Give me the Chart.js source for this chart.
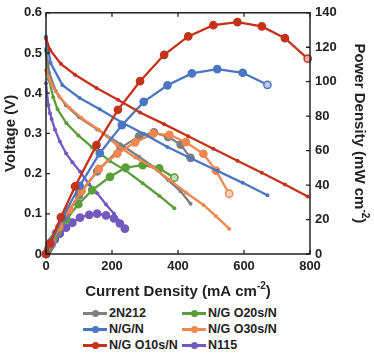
<!DOCTYPE html>
<html>
<head>
<meta charset="utf-8">
<script src="https://cdn.jsdelivr.net/npm/chart.js@4.4.1/dist/chart.umd.min.js"></script>
<style>
  html, body { margin: 0; padding: 0; background: #fff; }
  #wrap { position: relative; width: 374px; height: 354px; overflow: hidden; }
  #chart { position: absolute; left: 0; top: 0; }
  .lg-line { position: absolute; height: 3px; width: 24px; }
  .lg-dot { position: absolute; width: 7px; height: 7px; border-radius: 50%; }
  .lg-text { position: absolute; font: bold 12.5px "Liberation Sans", Arial, sans-serif; color: #222; line-height: 16px; white-space: nowrap; }
</style>
</head>
<body>
<div id="wrap">
  <canvas id="chart" width="374" height="300"></canvas>
  <div id="legend"></div>
</div>
<script>
// series, in legend order (row by row)
const seriesNames = ['2N212', 'N/G O20s/N', 'N/G/N', 'N/G O30s/N', 'N/G O10s/N', 'N115'];
const seriesColors = ['#7f7f7f', '#5a9e3a', '#4a76c2', '#f0874e', '#c5321a', '#7359be'];
const seriesTints = ['#cfcfcf', '#c2dcb4', '#bccdeb', '#f9d3bd', '#e8b0a6', '#cbc0ea'];

// current density (mA cm-2), voltage (V), power density (mW cm-2)
const cur2N212 = [0, 10, 30, 60, 100, 155, 226, 282, 327, 370, 408, 438];
const volt2N212 = [0.51, 0.45, 0.405, 0.37, 0.34, 0.31, 0.273, 0.242, 0.216, 0.184, 0.156, 0.125];
const pow2N212 = [0, 4.5, 12.2, 22.2, 34, 48, 61.6, 68.3, 70.6, 68, 63.5, 55.8];

const curO20 = [0, 8, 22, 35, 62, 98, 140, 194, 241, 293, 343, 389];
const voltO20 = [0.505, 0.435, 0.39, 0.36, 0.325, 0.295, 0.265, 0.231, 0.208, 0.176, 0.145, 0.114];
const powO20 = [0, 3.5, 8.6, 12.6, 20.2, 28.9, 37.1, 44.8, 50.1, 51.6, 49.7, 44.3];

const curNGN = [0, 14, 50, 102, 163, 230, 296, 368, 442, 519, 596, 671];
const voltNGN = [0.541, 0.475, 0.42, 0.388, 0.36, 0.327, 0.299, 0.266, 0.237, 0.207, 0.177, 0.146];
const powNGN = [0, 6.7, 21, 39.6, 58.5, 74.8, 88.3, 97.9, 104.8, 107.3, 105.2, 98.2];

const curO30 = [0, 17, 40, 71, 108, 160, 216, 270, 325, 374, 424, 477, 515, 555];
const voltO30 = [0.457, 0.42, 0.391, 0.364, 0.338, 0.309, 0.27, 0.24, 0.215, 0.185, 0.153, 0.122, 0.094, 0.063];
const powO30 = [0, 7.1, 15.6, 25.8, 36.5, 49.4, 58.3, 64.8, 69.9, 69.2, 64.9, 58.2, 48.4, 35];

const curO10 = [0, 12, 45, 88, 153, 218, 285, 358, 431, 507, 580, 654, 724, 793];
const voltO10 = [0.536, 0.508, 0.473, 0.446, 0.413, 0.384, 0.352, 0.323, 0.293, 0.262, 0.232, 0.202, 0.173, 0.143];
const powO10 = [0, 6.1, 21.3, 39.2, 63.2, 83.7, 100.3, 115.6, 126.3, 132.8, 134.6, 132.1, 125.3, 113.4];

const curN115 = [0, 7, 12, 17, 27, 42, 61, 80, 103, 131, 155, 182, 206, 224, 239];
const voltN115 = [0.425, 0.37, 0.35, 0.336, 0.31, 0.28, 0.25, 0.228, 0.205, 0.173, 0.151, 0.123, 0.1, 0.079, 0.062];
const powN115 = [0, 2.6, 4.2, 5.7, 8.4, 11.8, 15.3, 18.2, 21.1, 22.7, 23.4, 22.4, 20.6, 17.7, 14.7];

// axis ticks
const xTicks = [0, 200, 400, 600, 800];
const voltTicks = [0, 0.1, 0.2, 0.3, 0.4, 0.5, 0.6];
const powTicks = [0, 20, 40, 60, 80, 100, 120, 140];

const allCur = [cur2N212, curO20, curNGN, curO30, curO10, curN115];
const allVolt = [volt2N212, voltO20, voltNGN, voltO30, voltO10, voltN115];
const allPow = [pow2N212, powO20, powNGN, powO30, powO10, powN115];
// last power marker is pale for these
const hollowEnd = [false, true, true, true, true, false];

const FONT = '"Liberation Sans", Arial, sans-serif';
const INK = '#222';

// drawing order: first dataset ends up on top
const drawOrder = [4, 2, 3, 0, 1, 5];
const datasets = [];
drawOrder.forEach(i => {
  const col = seriesColors[i];
  const n = allCur[i].length;
  datasets.push({
    label: seriesNames[i] + ' P',
    data: allCur[i].map((c, k) => ({ x: c, y: allPow[i][k] })),
    yAxisID: 'y1',
    borderColor: col,
    backgroundColor: col,
    pointBackgroundColor: allCur[i].map((c, k) => (hollowEnd[i] && k === n - 1) ? seriesTints[i] : col),
    pointBorderColor: col,
    pointBorderWidth: 1.5,
    pointRadius: 3.6,
    borderWidth: 2.3,
    tension: 0,
    clip: false
  });
  datasets.push({
    label: seriesNames[i] + ' V',
    data: allCur[i].map((c, k) => ({ x: c, y: allVolt[i][k] })),
    yAxisID: 'y',
    borderColor: col,
    backgroundColor: col,
    pointRadius: 2,
    pointBorderWidth: 0,
    borderWidth: 2.3,
    tension: 0,
    clip: false
  });
});

function drawSupText(ctx, base, sup, tail, size) {
  ctx.font = 'bold ' + size + 'px ' + FONT;
  const wb = ctx.measureText(base).width;
  const wt = ctx.measureText(tail).width;
  ctx.font = 'bold ' + Math.round(size * 0.66) + 'px ' + FONT;
  const ws = ctx.measureText(sup).width;
  const total = wb + ws + wt;
  let x = -total / 2;
  ctx.textAlign = 'left';
  ctx.textBaseline = 'middle';
  ctx.font = 'bold ' + size + 'px ' + FONT;
  ctx.fillText(base, x, 0);
  x += wb;
  ctx.font = 'bold ' + Math.round(size * 0.66) + 'px ' + FONT;
  ctx.fillText(sup, x, -size * 0.38);
  x += ws;
  ctx.font = 'bold ' + size + 'px ' + FONT;
  ctx.fillText(tail, x, 0);
}

const frame = {
  id: 'frame',
  afterDraw(chart) {
    const { ctx, chartArea: a, scales } = chart;
    ctx.save();
    ctx.strokeStyle = INK;
    ctx.lineWidth = 1.5;
    ctx.strokeRect(a.left, a.top, a.right - a.left, a.bottom - a.top);
    ctx.lineWidth = 1.3;
    const t = 4;
    ctx.beginPath();
    xTicks.forEach(v => {
      const px = scales.x.getPixelForValue(v);
      ctx.moveTo(px, a.bottom); ctx.lineTo(px, a.bottom - t);
      ctx.moveTo(px, a.top); ctx.lineTo(px, a.top + t);
    });
    voltTicks.forEach(v => {
      const py = scales.y.getPixelForValue(v);
      ctx.moveTo(a.left, py); ctx.lineTo(a.left + t, py);
    });
    powTicks.forEach(v => {
      const py = scales.y1.getPixelForValue(v);
      ctx.moveTo(a.right, py); ctx.lineTo(a.right - t, py);
    });
    ctx.stroke();

    ctx.fillStyle = INK;
    // x title
    ctx.save();
    ctx.translate(178, 292);
    drawSupText(ctx, 'Current Density (mA cm', '-2', ')', 15);
    ctx.restore();
    // left title
    ctx.save();
    ctx.translate(11, (a.top + a.bottom) / 2);
    ctx.rotate(-Math.PI / 2);
    ctx.font = 'bold 15px ' + FONT;
    ctx.textAlign = 'center';
    ctx.textBaseline = 'middle';
    ctx.fillText('Voltage (V)', 0, 0);
    ctx.restore();
    // right title
    ctx.save();
    ctx.translate(359, (a.top + a.bottom) / 2);
    ctx.rotate(Math.PI / 2);
    drawSupText(ctx, 'Power Density (mW cm', '-2', ')', 15);
    ctx.restore();
    ctx.restore();
  }
};

const tickFont = { family: FONT, size: 13, weight: 'bold' };

new Chart(document.getElementById('chart'), {
  type: 'line',
  data: { datasets },
  options: {
    responsive: false,
    animation: false,
    events: [],
    layout: { padding: { top: 10, left: 0, right: 0, bottom: 0 } },
    plugins: { legend: { display: false }, tooltip: { enabled: false } },
    scales: {
      x: {
        type: 'linear', min: 0, max: 800,
        afterBuildTicks: s => { s.ticks = xTicks.map(v => ({ value: v })); },
        ticks: { font: tickFont, color: INK, padding: 5, maxRotation: 0 },
        grid: { display: false, drawTicks: false },
        border: { display: false },
        afterFit: s => { s.height = 46; }
      },
      y: {
        position: 'left', min: 0, max: 0.6,
        afterBuildTicks: s => { s.ticks = voltTicks.map(v => ({ value: v })); },
        ticks: { font: tickFont, color: INK, padding: 4, callback: v => v === 0 ? '0' : v.toFixed(1) },
        grid: { display: false, drawTicks: false },
        border: { display: false },
        afterFit: s => { s.width = 46; }
      },
      y1: {
        position: 'right', min: 0, max: 140,
        afterBuildTicks: s => { s.ticks = powTicks.map(v => ({ value: v })); },
        ticks: { font: tickFont, color: INK, padding: 5 },
        grid: { display: false, drawTicks: false },
        border: { display: false },
        afterFit: s => { s.width = 64; }
      }
    }
  },
  plugins: [frame]
});

// legend, two columns
const legend = document.getElementById('legend');
const colX = [83, 182];
const rowY = [313, 329, 345];
seriesNames.forEach((name, i) => {
  const x = colX[i % 2], y = rowY[Math.floor(i / 2)];
  const line = document.createElement('span');
  line.className = 'lg-line';
  line.style.left = x + 'px';
  line.style.top = (y - 1.5) + 'px';
  line.style.background = seriesColors[i];
  const dot = document.createElement('span');
  dot.className = 'lg-dot';
  dot.style.left = (x + 8.5) + 'px';
  dot.style.top = (y - 3.5) + 'px';
  dot.style.background = seriesColors[i];
  const txt = document.createElement('span');
  txt.className = 'lg-text';
  txt.style.left = (x + 26) + 'px';
  txt.style.top = (y - 8) + 'px';
  txt.textContent = name;
  legend.append(line, dot, txt);
});
</script>
</body>
</html>
